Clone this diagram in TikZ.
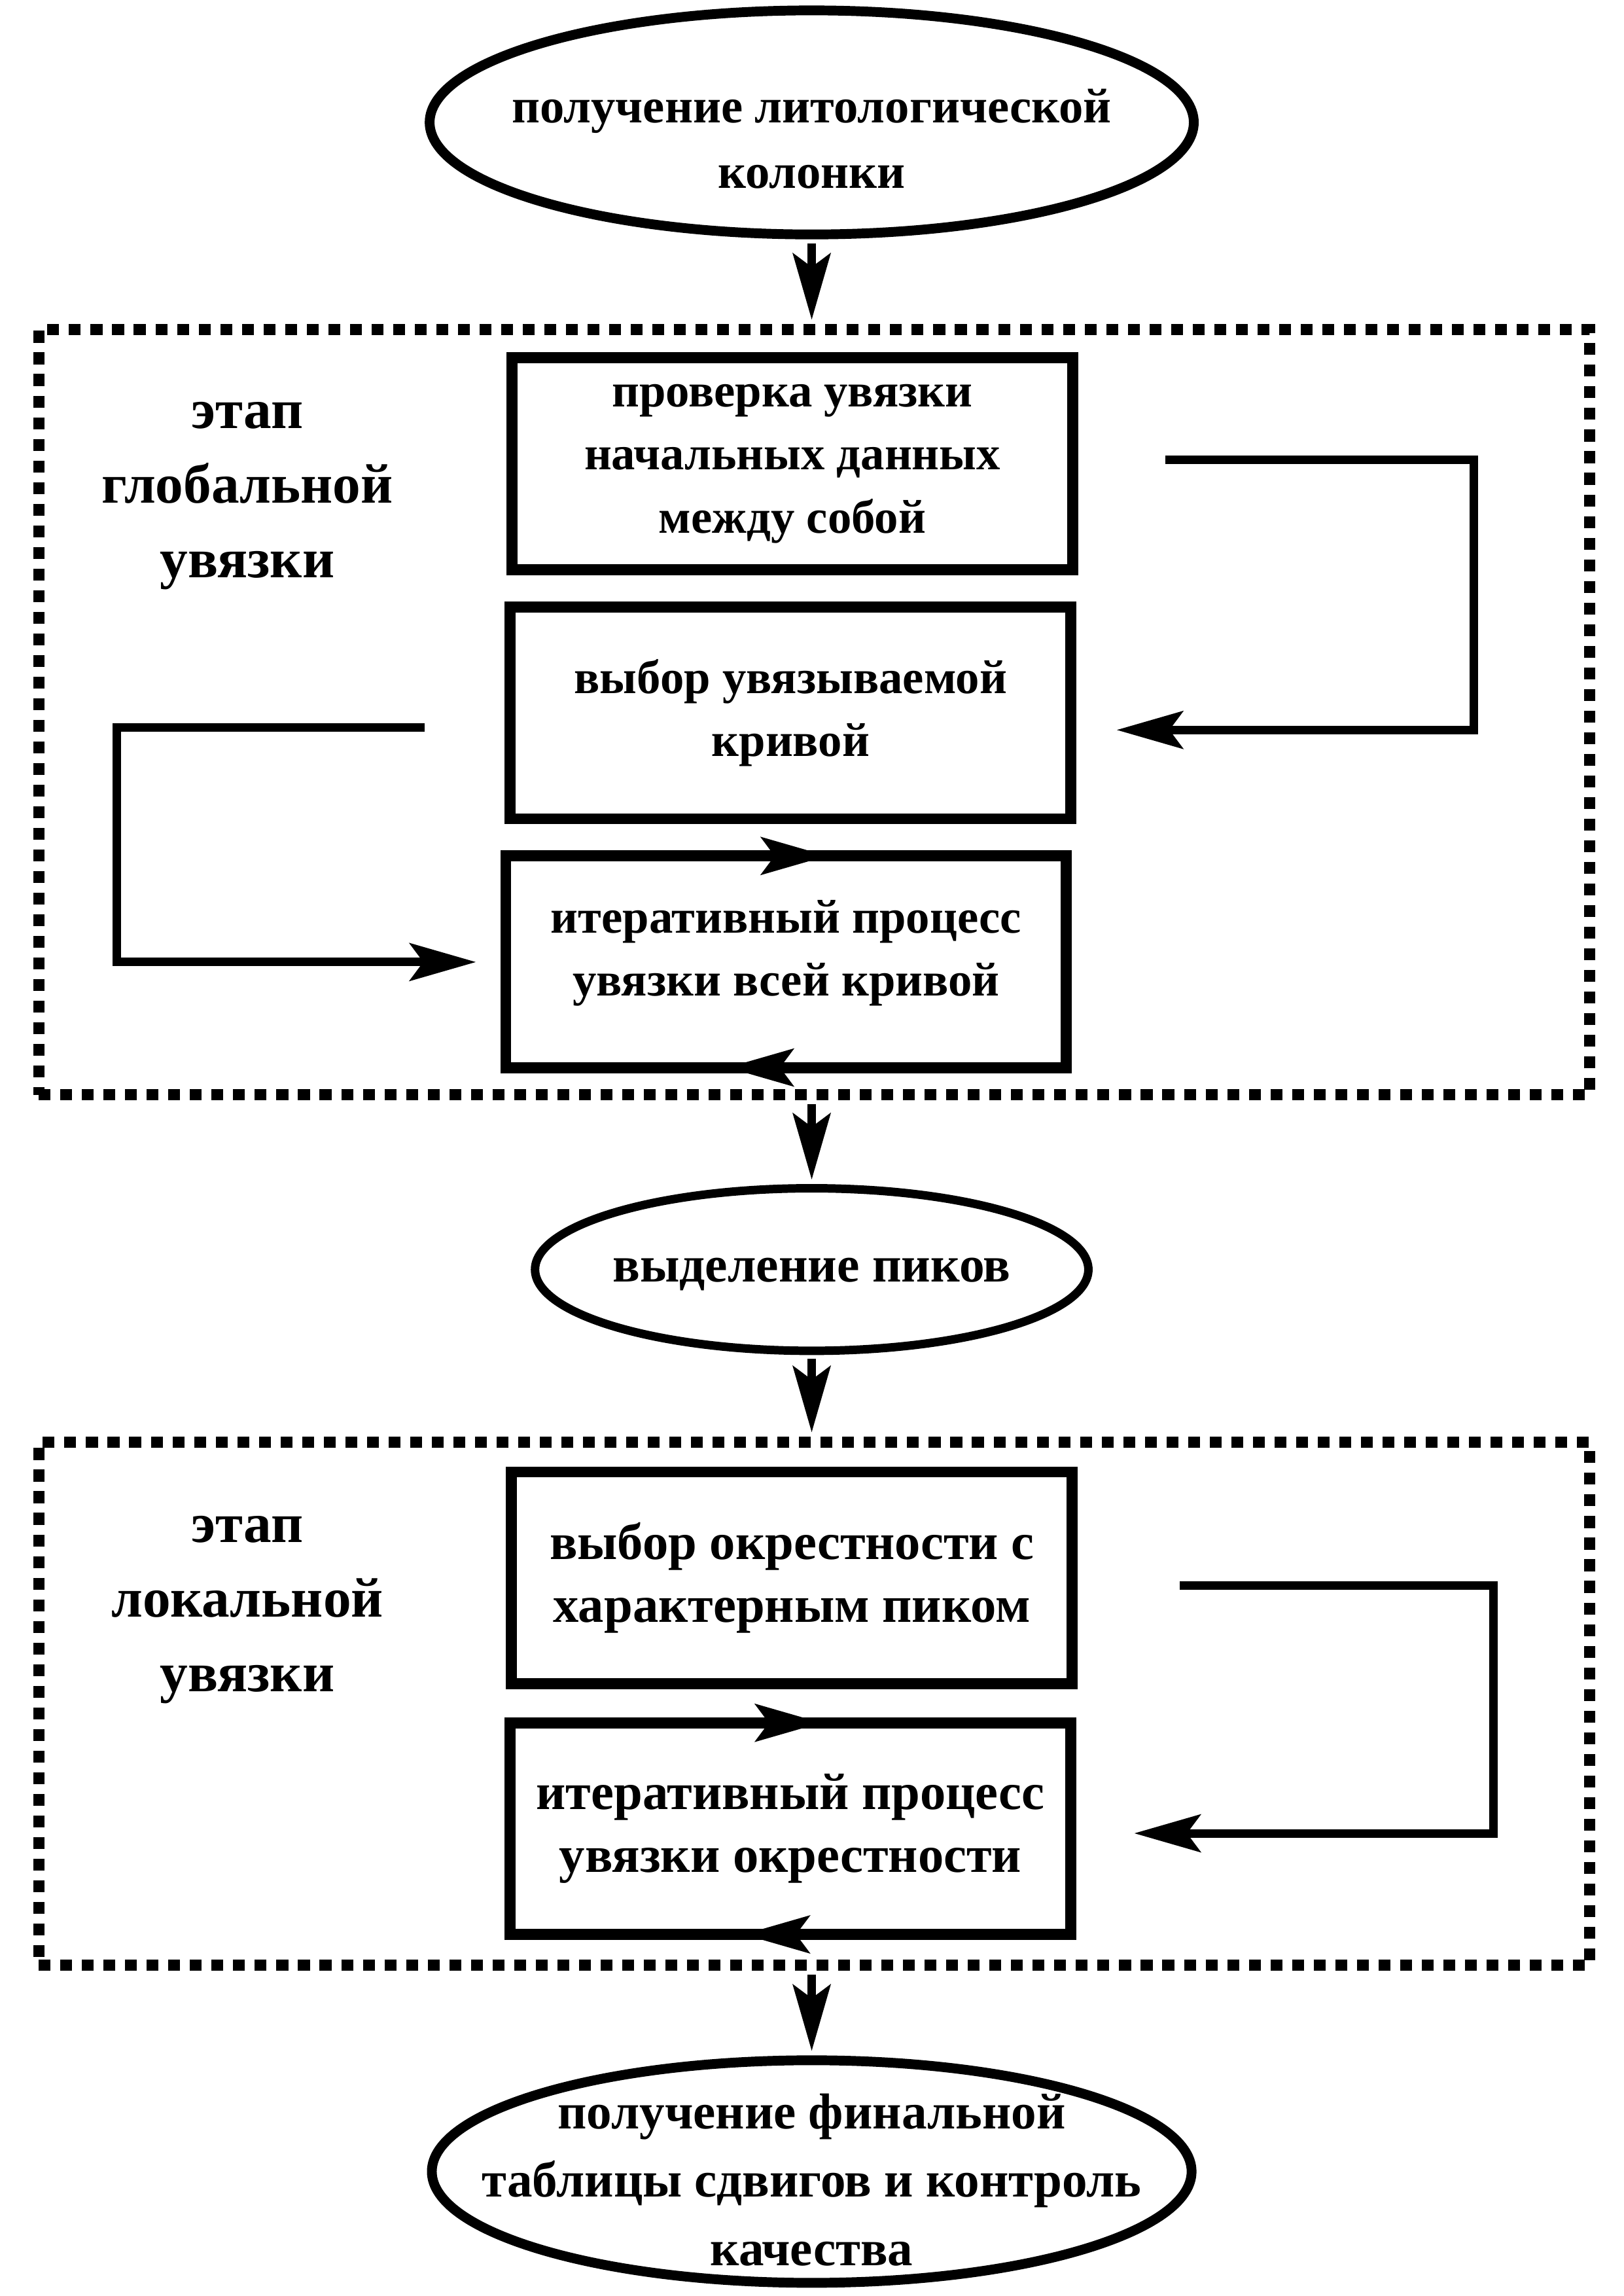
\documentclass[tikz,border=0pt]{standalone}
\usepackage{fontspec}
\setmainfont{Liberation Serif}
\usetikzlibrary{arrows.meta,calc,shapes.geometric}

\begin{document}
\begin{tikzpicture}[x=0.2mm,y=-0.2mm,
    flow/.style={-{Stealth[length=26pt,width=15pt,inset=5.6pt,line width=0pt]},line width=3.1pt},
    loopline/.style={flow,line width=3.3pt},
    stepbox/.style={draw,line width=4.3pt,outer sep=0pt,minimum width=76.6mm,minimum height=28.9mm,
      align=center,font=\bfseries\fontsize{20}{24.5}\selectfont},
    globbox/.style={stepbox,font=\bfseries\fontsize{18.5}{24.5}\selectfont},
    term/.style={draw,ellipse,line width=3.8pt,inner sep=0pt},
    termtext/.style={align=center,anchor=base,font=\bfseries\fontsize{19}{25.2}\selectfont},
    stage/.style={draw,line width=4.3pt,dash pattern=on 4.6pt off 3.8pt,minimum width=211.9mm},
    stagetext/.style={align=center,anchor=base,font=\bfseries\fontsize{21.7}{29}\selectfont}
  ]

    \useasboundingbox (0,0) rectangle (1109,1568);

    % start
    \node[term,minimum width=104.4mm,minimum height=30.6mm] (top) at (554.5,83.6) {};
    \node[termtext] (toptxt) at (554.5,128.3) {получение литологической\\колонки};

    % global stage
    \node[stage,minimum height=104.5mm] (glob) at (556.2,486.4) {};
    \node[stagetext] (globtxt) at (169,394.6) {этап\\глобальной\\увязки};

    \node[globbox] (chk) at (541.3,316.7) {проверка увязки\\начальных данных\\между собой};
    \node[globbox] (sel) at (540.1,486.9) {выбор увязываемой\\кривой};
    \node[globbox,text depth=10.8pt] (itg) at (537,656.8) {итеративный процесс\\увязки всей кривой};

    \coordinate (r1) at (796,314);
    \coordinate (r1e) at (763,498.5);
    \draw[loopline] (r1) -| (1007,498.5) -- (r1e);

    \coordinate (l1) at (290,497);
    \coordinate (l1e) at (325,657);
    \draw[loopline] (l1) -| (80,657) -- (l1e);

    \draw[flow] (itg.north west) -- ($(itg.north)+(28,0)$);
    \draw[flow] (itg.south east) -- ($(itg.south)+(-40,0)$);

    % peaks
    \node[term,line width=3.3pt,minimum width=75.6mm,minimum height=22.2mm] (peak) at (554.5,867) {};
    \node[termtext,font=\bfseries\fontsize{19.7}{25}\selectfont] (peaktxt) at (554.5,875.6) {выделение пиков};

    % local stage
    \node[stage,minimum height=71.4mm] (loc) at (556.2,1163.5) {};
    \node[stagetext] (loctxt) at (169,1155) {этап\\локальной\\увязки};

    \node[stepbox] (nbh) at (541,1077.5) {выбор окрестности с\\характерным пиком};
    \node[stepbox] (itl) at (540,1248.8) {итеративный процесс\\увязки окрестности};

    \coordinate (r2) at (806,1083);
    \coordinate (r2e) at (775,1252);
    \draw[loopline] (r2) -| (1020,1252) -- (r2e);

    \draw[flow] (itl.north west) -- ($(itl.north)+(21,0)$);
    \draw[flow] (itl.south east) -- ($(itl.south)+(-32,0)$);

    % end
    \node[term,minimum width=103.8mm,minimum height=30.4mm] (fin) at (554.5,1483) {};
    \node[termtext,font=\bfseries\fontsize{19.6}{26.5}\selectfont] (fintxt) at (554.5,1547)
      {получение финальной\\таблицы сдвигов и контроль\\качества};

    % main flow
    \draw[flow,shorten <=1.5pt,shorten >=1.8pt] (top.south) -- (top.south |- glob.north);
    \draw[flow,shorten <=1.5pt,shorten >=1.8pt] (peak.north |- glob.south) -- (peak.north);
    \draw[flow,shorten <=1.5pt,shorten >=1.8pt] (peak.south) -- (peak.south |- loc.north);
    \draw[flow,shorten <=1.5pt,shorten >=1.8pt] (fin.north |- loc.south) -- (fin.north);

\end{tikzpicture}
\end{document}
